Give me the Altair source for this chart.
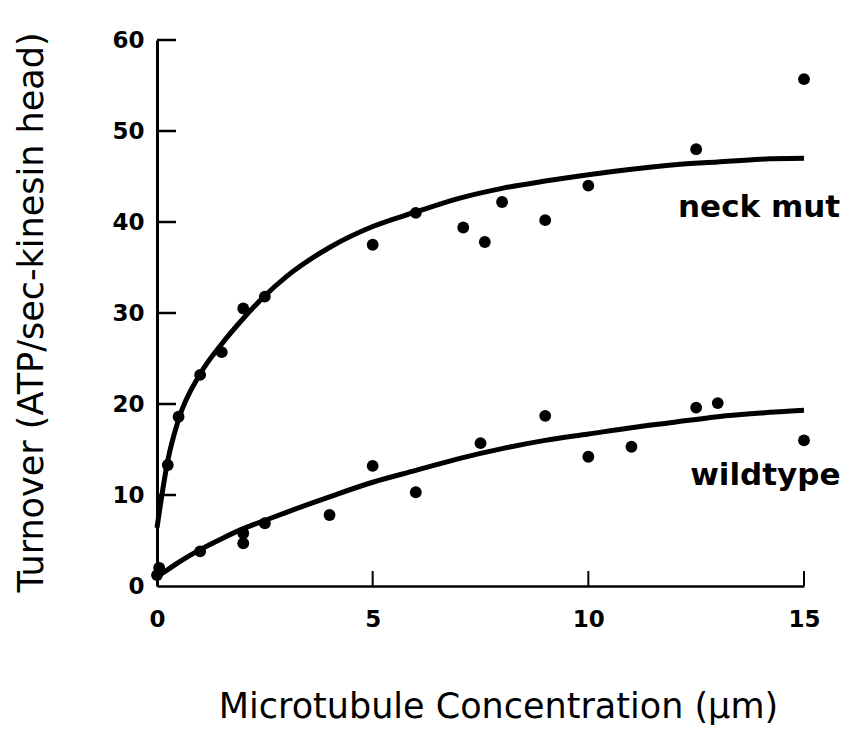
import altair as alt
import pandas as pd

# Measured turnover rates
neck_x = [0.25, 0.5, 1.0, 1.5, 2.0, 2.5, 5.0, 6.0, 7.1, 7.6, 8.0, 9.0, 10.0, 12.5, 15.0]
neck_y = [13.3, 18.6, 23.2, 25.7, 30.5, 31.8, 37.5, 41.0, 39.4, 37.8, 42.2, 40.2, 44.0, 48.0, 55.7]

wt_x = [0.0, 0.05, 1.0, 2.0, 2.0, 2.5, 4.0, 5.0, 6.0, 7.5, 9.0, 10.0, 11.0, 12.5, 13.0, 15.0]
wt_y = [1.2, 2.0, 3.8, 5.8, 4.7, 6.9, 7.8, 13.2, 10.3, 15.7, 18.7, 14.2, 15.3, 19.6, 20.1, 16.0]

# Fitted curves
fit_x = [0, 0.25, 0.5, 1, 1.5, 2, 2.5, 3, 4, 5, 6, 7, 8, 9, 10, 11, 12, 13, 14, 15]
neck_fit = [6.4, 13.8, 18.3, 23.3, 26.6, 29.4, 31.9, 34.0, 37.2, 39.5, 41.1, 42.6, 43.7,
            44.5, 45.2, 45.8, 46.3, 46.6, 46.9, 47.0]
wt_fit = [1.0, 1.8, 2.6, 4.0, 5.2, 6.3, 7.2, 8.1, 9.8, 11.4, 12.7, 14.0, 15.1,
          16.0, 16.7, 17.4, 18.0, 18.6, 19.0, 19.3]

series_labels = ["neck mut", "wildtype"]
label_x = [12.08, 12.36]
label_y = [40.6, 11.1]

x_ticks = [5, 10, 15]
y_ticks = [10, 20, 30, 40, 50, 60]

pts = pd.DataFrame({"x": neck_x + wt_x, "y": neck_y + wt_y})
fits = pd.DataFrame({
    "x": fit_x + fit_x,
    "y": neck_fit + wt_fit,
    "s": ["neck"] * len(fit_x) + ["wt"] * len(fit_x),
})
labels = pd.DataFrame({"t": series_labels, "x": label_x, "y": label_y})

xs = alt.Scale(domain=[0, 15], nice=False, zero=False)
ys = alt.Scale(domain=[0, 60], nice=False, zero=False)

x_axis = alt.Axis(
    values=[0, 5, 10, 15], ticks=False, grid=False, domain=True,
    domainWidth=2.5, domainColor="black", labelFlush=False,
    labelFont="DejaVu Sans", labelFontWeight="bold", labelFontSize=23,
    labelColor="black", labelPadding=22, labelBaseline="top",
    title="Microtubule Concentration (µm)", titleFont="DejaVu Sans",
    titleFontWeight="normal", titleFontSize=35, titleColor="black",
    titleX=341, titleY=131, titleBaseline="alphabetic", titleAnchor="middle",
)
y_axis = alt.Axis(
    values=[0, 10, 20, 30, 40, 50, 60], ticks=False, grid=False, domain=True,
    domainWidth=3, domainColor="black", labelFlush=False,
    labelFont="DejaVu Sans", labelFontWeight="bold", labelFontSize=23,
    labelColor="black", labelPadding=13,
    title="Turnover (ATP/sec-kinesin head)", titleFont="DejaVu Sans",
    titleFontWeight="normal", titleFontSize=35, titleColor="black",
    titleAngle=270, titleX=-115, titleY=272, titleBaseline="alphabetic",
    titleAnchor="middle",
)

base_x = alt.X("x:Q", scale=xs, axis=x_axis)
base_y = alt.Y("y:Q", scale=ys, axis=y_axis)

curves = alt.Chart(fits).mark_line(
    color="black", strokeWidth=5, clip=False, interpolate="monotone"
).encode(x=base_x, y=base_y, detail="s:N")

dots = alt.Chart(pts).mark_circle(color="black", opacity=1, size=140, clip=False).encode(
    x=alt.X("x:Q", scale=xs), y=alt.Y("y:Q", scale=ys)
)

# inward tick marks
xt = alt.Chart(pd.DataFrame({"x": x_ticks})).mark_rule(color="black", strokeWidth=2).encode(
    x=alt.X("x:Q", scale=xs), y=alt.value(546), y2=alt.value(531)
)
yt = alt.Chart(pd.DataFrame({"y": y_ticks})).mark_rule(color="black", strokeWidth=2.5).encode(
    y=alt.Y("y:Q", scale=ys), x=alt.value(0), x2=alt.value(19)
)

texts = alt.Chart(labels).mark_text(
    font="DejaVu Sans", fontWeight="bold", fontSize=31, align="left",
    baseline="alphabetic", color="black",
).encode(x=alt.X("x:Q", scale=xs), y=alt.Y("y:Q", scale=ys), text="t:N")

chart = alt.layer(curves, dots, xt, yt, texts).properties(
    width=647, height=546,
    autosize=alt.AutoSizeParams(type="none"),
    padding={"left": 157, "top": 40, "right": 52, "bottom": 149},
).configure(
    background="white",
    view=alt.ViewConfig(stroke=None),
)

chart.save("out.html", embed_options={"renderer": "svg", "actions": False})
